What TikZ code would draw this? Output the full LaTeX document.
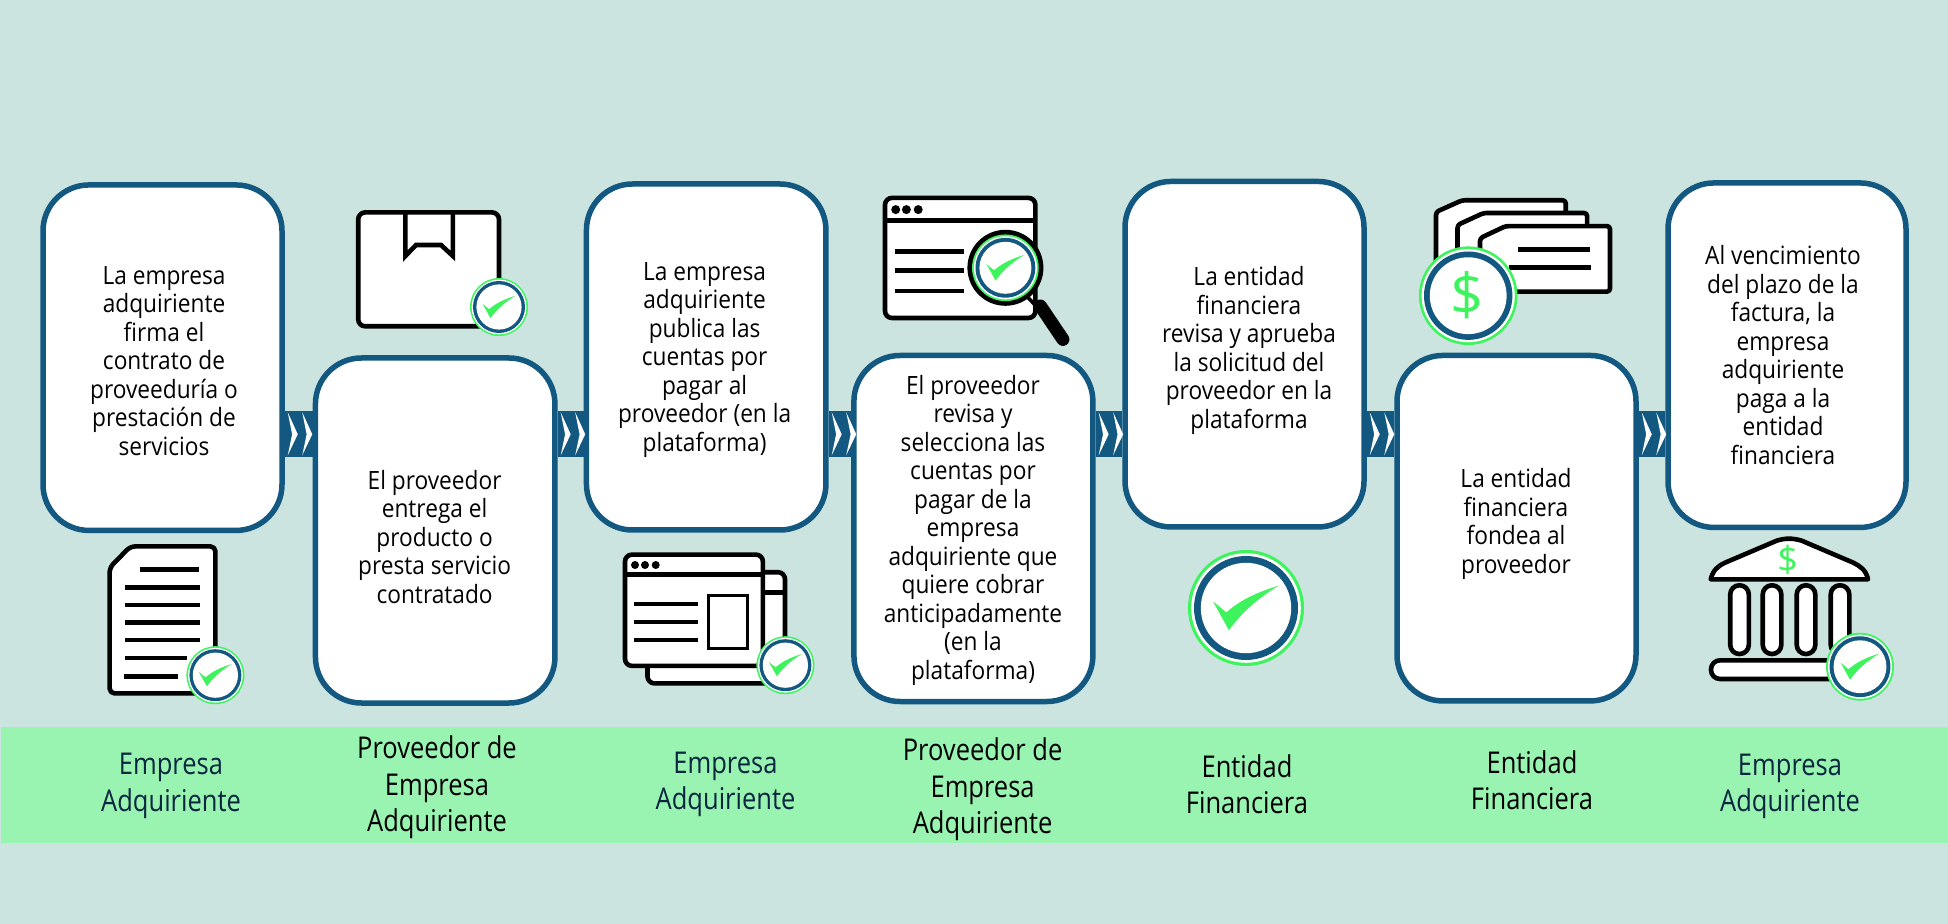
\documentclass[tikz,border=0pt]{standalone}
\usepackage{fontspec}
\setmainfont[FakeStretch=0.9]{Open Sans}
\newfontfamily\bandfont[FakeStretch=0.85]{Open Sans}
\newfontfamily\dollarfont{Open Sans}
\definecolor{bgc}{HTML}{CBE4DF}
\definecolor{bandc}{HTML}{98F4B0}
\definecolor{bluec}{HTML}{125880}
\definecolor{greenc}{HTML}{3DF45C}
\definecolor{navyc}{HTML}{0A2540}
\tikzset{
  stepbox/.style={draw=bluec,line width=2.75pt,fill=white,rounded corners=23pt,inner sep=0pt},
  bodytext/.style={align=center,inner sep=0pt,text=black,font=\fontsize{12.6}{14.25}\selectfont},
  bandtext/.style={align=center,inner sep=0pt,font=\bandfont\fontsize{15}{18.2}\selectfont},
  linkbar/.style={draw=bluec,line width=22.75pt},
  chevron/.style={fill=white},
  icon/.style={draw=black,line width=2.3pt,fill=white,line join=round},
  iconline/.style={draw=black,line width=2.4pt},
}
\newcommand{\mybox}[5]{\node[stepbox,minimum width=#4*0.5pt,minimum height=#5*0.5pt] (#1) at (#2,#3) {};}
\newcommand{\linkboxes}[2]{%
  \draw[linkbar] (#1.east |- barY) -- (#2.west |- barY);
  \begin{scope}[shift={(#1.east |- barY)}]
    \fill[chevron] (3,-21.5) -- (13,0.5) -- (3,21.5) -- (7.4,0.5) -- cycle;
    \fill[chevron] (17.5,-21.5) -- (27.5,0.5) -- (17.5,21.5) -- (21.9,0.5) -- cycle;
  \end{scope}}
\newcommand{\ring}[4]{%
  \begin{scope}[shift={(#1,#2)},scale=#3]
    \fill[greenc] (0,0) circle (29);
    \fill[white] (0,0) circle (27.4);
    \fill[bluec] (0,0) circle (26);
    \fill[white] (0,0) circle (22.6);
    #4
  \end{scope}}
\newcommand{\tick}{\fill[greenc] (-16.5,-3.3) -- (-9.8,2.2) .. controls (-3,-4) and (6,-8) .. (16.4,-11.2) .. controls (6,-5) and (-3,3) .. (-8.5,11.2) -- cycle;}
\begin{document}
\begin{tikzpicture}[x=0.5pt,y=-0.5pt]
\useasboundingbox (0,0) rectangle (1948,924);
\fill[bgc] (0,0) rectangle (1948,924);
\fill[bandc] (1,727.3) rectangle (1948,843.3);
\coordinate (barY) at (0,433.8);
% step boxes
\mybox{b1}{162.5}{357.7}{239}{345.5}
\mybox{b2}{435.2}{530.5}{239.5}{345}
\mybox{b3}{706.2}{357}{239.5}{346}
\mybox{b4}{973.4}{528.5}{239}{346}
\mybox{b5}{1244.5}{354.2}{239}{345.5}
\mybox{b6}{1516.5}{528.2}{239}{345.5}
\mybox{b7}{1787}{355.2}{238}{344.5}
\linkboxes{b1}{b2}
\linkboxes{b2}{b3}
\linkboxes{b3}{b4}
\linkboxes{b4}{b5}
\linkboxes{b5}{b6}
\linkboxes{b6}{b7}
% texts
\node[bodytext] (t1) at (164,361) {La empresa\\adquiriente\\firma el\\contrato de\\proveeduría o\\prestación de\\servicios};
\node[bodytext] (t2) at (434.6,537) {El proveedor\\entrega el\\producto o\\presta servicio\\contratado};
\node[bodytext] (t3) at (704.6,360) {La empresa\\adquiriente\\publica las\\cuentas por\\pagar al\\proveedor (en la\\plataforma)};
\node[bodytext] (t4) at (973,530.3) {El proveedor\\revisa y\\selecciona las\\cuentas por\\pagar de la\\empresa\\adquiriente que\\quiere cobrar\\anticipadamente\\(en la\\plataforma)};
\node[bodytext] (t5) at (1249,350.7) {La entidad\\financiera\\revisa y aprueba\\la solicitud del\\proveedor en la\\plataforma};
\node[bodytext] (t6) at (1516,524) {La entidad\\financiera\\fondea al\\proveedor};
\node[bodytext] (t7) at (1783,355.2) {Al vencimiento\\del plazo de la\\factura, la\\empresa\\adquiriente\\paga a la\\entidad\\financiera};
% band labels
\node[bandtext,text=navyc] (l1) at (171,786) {Empresa\\Adquiriente};
\node[bandtext,text=black] (l2) at (437,787.5) {Proveedor de\\Empresa\\Adquiriente};
\node[bandtext,text=navyc] (l3) at (725.5,784.5) {Empresa\\Adquiriente};
\node[bandtext,text=black] (l4) at (982.6,789.5) {Proveedor de\\Empresa\\Adquiriente};
\node[bandtext,text=black] (l5) at (1247,784) {Entidad\\Financiera};
\node[bandtext,text=black] (l6) at (1532,780) {Entidad\\Financiera};
\node[bandtext,text=navyc] (l7) at (1790,786.5) {Empresa\\Adquiriente};
% document icon
\draw[icon,rounded corners=2.5pt] (109.6,567.7) -- (130.4,546.4) -- (215.4,546.4) -- (215.4,693.4) -- (109.6,693.4) -- cycle;
\foreach \ya/\xa/\xb in {569.4/140/199.3,587.4/125/200,604.9/124.5/199.5,622.5/125/200,640/125/200,658/125/186.8,676.2/124.3/177.5}
  \draw[iconline] (\xa,\ya) -- (\xb,\ya);
\ring{215.4}{675.2}{1}{\tick}
% box icon
\draw[icon,rounded corners=3.5pt] (358.2,212.4) rectangle (499,326.3);
\draw[icon,fill=none,line join=miter] (405.4,212.4) -- (405.4,256) -- (416,245) -- (441,245) -- (452.9,256) -- (452.9,212.4);
\ring{499}{307}{1}{\tick}
% windows icon
\draw[icon,rounded corners=3.5pt] (647.5,572.2) rectangle (785,683.4);
\draw[iconline] (762,592.2) -- (785,592.2);
\draw[icon,rounded corners=3.5pt] (625,554.6) rectangle (762.9,665.9);
\draw[iconline] (625,574.6) -- (762.9,574.6);
\foreach \xa in {635,645,655.7} \fill[black] (\xa,565) circle (4);
\foreach \ya in {604.2,621.8,640} \draw[iconline,line width=2pt] (634.3,\ya) -- (697.5,\ya);
\draw[draw=black,line width=1.5pt,fill=none] (708.6,595.6) rectangle (747.9,648);
\ring{785.4}{665.2}{1}{\tick}
% magnifier icon
\draw[icon,rounded corners=3.5pt] (885,197.9) rectangle (1035.4,318);
\draw[iconline] (885,220.3) -- (1035.4,220.3);
\foreach \xa in {895.7,906.4,918.2} \fill[black] (\xa,209.6) circle (4.5);
\foreach \ya in {251.6,270.6,290.9} \draw[iconline,line width=2.2pt] (895,\ya) -- (964.3,\ya);
\draw[black,line width=1.8pt] (1027.9,297.4) -- (1038,308);
\draw[black,line width=6.5pt,line cap=round] (1040.4,306) -- (1062.9,339.4);
\fill[black] (1005.4,267.8) circle (38);
\ring{1005.4}{267.8}{1.15}{\tick}
% large check
\ring{1246}{608}{2}{\tick}
% bills icon
\draw[icon,rounded corners=1.5pt] (1436,212) -- (1462.1,200.3) -- (1565.7,200.3) -- (1565.7,265) -- (1436,265) -- cycle;
\draw[icon,rounded corners=1.5pt] (1457.5,225) -- (1483.6,213) -- (1587.1,213) -- (1587.1,278) -- (1457.5,278) -- cycle;
\draw[icon,rounded corners=1.5pt] (1480,238.2) -- (1505.7,226.1) -- (1610,226.1) -- (1610,291.6) -- (1480,291.6) -- cycle;
\draw[iconline,line width=2.6pt] (1518.2,249.5) -- (1589.6,249.5);
\draw[iconline,line width=2.6pt] (1509.3,267.5) -- (1590.7,267.5);
\ring{1468.2}{295.7}{1.7}{}
\node[text=greenc,inner sep=0pt,font=\dollarfont\fontsize{29}{29}\selectfont] (dollar1) at (1467.5,295) {\$};
% bank icon
\draw[icon] (1710.7,579.3) .. controls (1713,570) and (1718,566) .. (1725,562.7) -- (1776.7,540.7) .. controls (1785,538) and (1793,538) .. (1801.7,540.7) -- (1853.3,562.7) .. controls (1860,566) and (1866,570) .. (1868,579.3) -- cycle;
\node[text=greenc,inner sep=0pt,font=\dollarfont\fontsize{18}{18}\selectfont] (dollar2) at (1787.7,560) {\$};
\foreach \xa in {1739.5,1772,1806,1840}
  \draw[icon,rounded corners=4.6pt] (\xa-9.3,585.3) rectangle (\xa+9.3,654);
\draw[icon,rounded corners=4.5pt] (1711,660.3) rectangle (1850,679);
\ring{1860}{666.7}{1.17}{\tick}
\end{tikzpicture}
\end{document}
